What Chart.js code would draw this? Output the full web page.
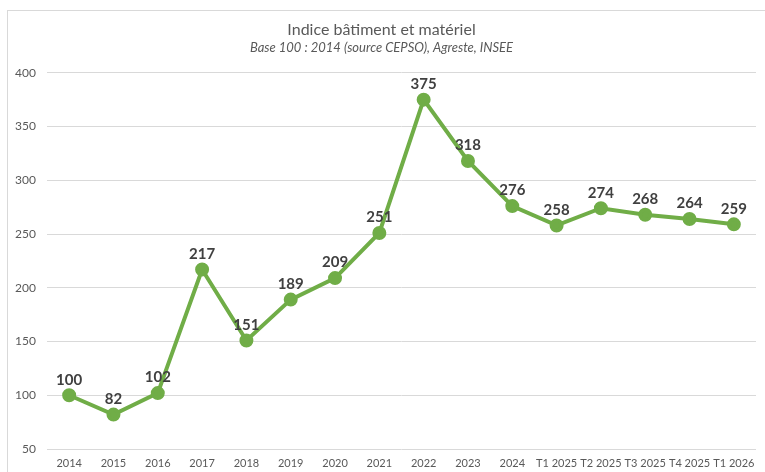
<!DOCTYPE html>
<html>
<head>
<meta charset="utf-8">
<script src="https://cdn.jsdelivr.net/npm/chart.js@4"></script>
<style>
  html, body { margin: 0; padding: 0; background: #fff; }
  #wrap { width: 765px; height: 472px; position: relative; }
</style>
</head>
<body>
<div id="wrap"><canvas id="indiceChart"></canvas></div>
<script>
const periods = ['2014', '2015', '2016', '2017', '2018', '2019', '2020', '2021', '2022', '2023', '2024',
  'T1 2025', 'T2 2025', 'T3 2025', 'T4 2025', 'T1 2026'];
const indiceValues = [100, 82, 102, 217, 151, 189, 209, 251, 375, 318, 276, 258, 274, 268, 264, 259];
const yTicks = [50, 100, 150, 200, 250, 300, 350, 400];

const textFont = 'Lato, "Open Sans", sans-serif';

// frame around the chart, like the office export
const framePlugin = {
  id: 'frame',
  beforeDraw(chart) {
    const ctx = chart.ctx;
    ctx.save();
    ctx.strokeStyle = '#d9d9d9';
    ctx.lineWidth = 1;
    ctx.strokeRect(7.5, 10.5, 900, 600);
    ctx.restore();
  }
};

// value labels above each point
const valueLabels = {
  id: 'valueLabels',
  afterDatasetsDraw(chart) {
    const ctx = chart.ctx;
    const meta = chart.getDatasetMeta(0);
    ctx.save();
    ctx.font = 'bold 15px ' + textFont;
    ctx.fillStyle = '#404040';
    ctx.textAlign = 'center';
    ctx.textBaseline = 'bottom';
    meta.data.forEach((pt, i) => {
      ctx.fillText(String(indiceValues[i]), pt.x, pt.y - 8);
    });
    ctx.restore();
  }
};

new Chart(document.getElementById('indiceChart'), {
  type: 'line',
  data: {
    labels: periods,
    datasets: [{
      label: 'Indice',
      data: indiceValues,
      borderColor: '#70ad47',
      backgroundColor: '#70ad47',
      borderWidth: 4,
      pointRadius: 5,
      pointHoverRadius: 5,
      tension: 0
    }]
  },
  options: {
    responsive: true,
    maintainAspectRatio: false,
    animation: false,
    layout: { padding: { left: 0, right: 2, top: 0, bottom: 0 } },
    plugins: {
      legend: { display: false },
      tooltip: { enabled: false },
      title: {
        display: true,
        text: 'Indice bâtiment et matériel',
        color: '#595959',
        font: { family: textFont, size: 16, weight: 'normal' },
        padding: { top: 20, bottom: 1 }
      },
      subtitle: {
        display: true,
        text: 'Base 100 : 2014 (source CEPSO), Agreste, INSEE',
        color: '#595959',
        font: { family: textFont, size: 13, style: 'italic' },
        padding: { top: 0, bottom: 17 }
      }
    },
    scales: {
      x: {
        offset: true,
        grid: { display: false, drawTicks: false },
        border: { display: false },
        ticks: {
          color: '#595959',
          font: { family: textFont, size: 11 },
          padding: 8,
          maxRotation: 0,
          autoSkip: false
        },
        afterFit(scale) { scale.height = 23; }
      },
      y: {
        min: 50,
        max: 400,
        afterBuildTicks(scale) { scale.ticks = yTicks.map(v => ({ value: v })); },
        grid: { color: '#d9d9d9', lineWidth: 1, drawTicks: false },
        border: { display: false },
        ticks: {
          color: '#595959',
          font: { family: textFont, size: 12 },
          padding: 11
        },
        afterFit(scale) { scale.width = 47; }
      }
    }
  },
  plugins: [framePlugin, valueLabels]
});
</script>
</body>
</html>
